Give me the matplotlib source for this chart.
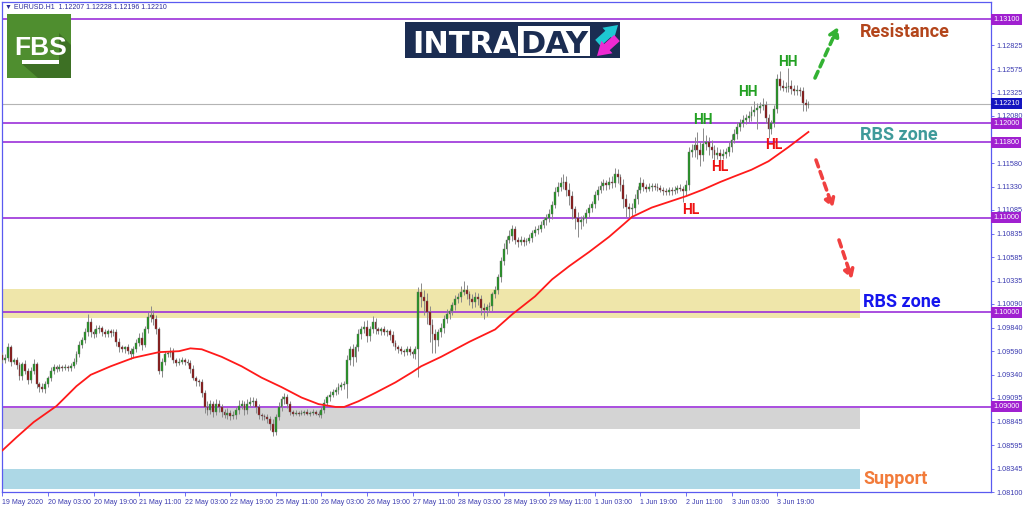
import numpy as np
import matplotlib
matplotlib.use('Agg')
import matplotlib.pyplot as plt
from matplotlib.patches import Rectangle, Polygon
import matplotlib.transforms as mtransforms

# EURUSD H1 closes, bar 0 = 19 May 2020 11:00
first_open = 1.0955
closes = [
    1.0950, 1.0952, 1.0963, 1.0948, 1.0950, 1.0944, 1.0933, 1.0945, 1.0938, 1.0929,
    1.0938, 1.0945, 1.0924, 1.0921, 1.0919, 1.0924, 1.0931, 1.0938, 1.0942, 1.0940,
    1.0942, 1.0941, 1.0942, 1.0941, 1.0943, 1.0948, 1.0956, 1.0966, 1.0971, 1.0979,
    1.0990, 1.0979, 1.0977, 1.0982, 1.0984, 1.0979, 1.0977, 1.0980, 1.0978, 1.0979,
    1.0969, 1.0963, 1.0961, 1.0963, 1.0959, 1.0956, 1.0961, 1.0968, 1.0973, 1.0966,
    1.0982, 1.0995, 1.0997, 1.0993, 1.0982, 1.0938, 1.0948, 1.0956, 1.0957, 1.0959,
    1.0950, 1.0947, 1.0948, 1.0950, 1.0948, 1.0947, 1.0940, 1.0931, 1.0927, 1.0926,
    1.0915, 1.0900, 1.0897, 1.0903, 1.0895, 1.0903, 1.0900, 1.0895, 1.0892, 1.0894,
    1.0890, 1.0892, 1.0897, 1.0901, 1.0903, 1.0897, 1.0903, 1.0905, 1.0906, 1.0900,
    1.0892, 1.0890, 1.0889, 1.0887, 1.0882, 1.0874, 1.0889, 1.0900, 1.0908, 1.0911,
    1.0903, 1.0895, 1.0893, 1.0894, 1.0893, 1.0894, 1.0895, 1.0893, 1.0894, 1.0895,
    1.0893, 1.0892, 1.0897, 1.0904, 1.0910, 1.0913, 1.0916, 1.0918, 1.0921, 1.0923,
    1.0924, 1.0950, 1.0961, 1.0953, 1.0963, 1.0977, 1.0982, 1.0985, 1.0975, 1.0982,
    1.0990, 1.0982, 1.0980, 1.0982, 1.0979, 1.0980, 1.0976, 1.0968, 1.0963, 1.0961,
    1.0959, 1.0958, 1.0961, 1.0958, 1.0956, 1.0961, 1.1022, 1.1016, 1.1012, 1.1000,
    1.0987, 1.0977, 1.0971, 1.0979, 1.0984, 1.0993, 1.0998, 1.1001, 1.1008, 1.1014,
    1.1016, 1.1022, 1.1024, 1.1019, 1.1014, 1.1011, 1.1016, 1.1014, 1.1005, 1.1003,
    1.1006, 1.1007, 1.1019, 1.1024, 1.1037, 1.1054, 1.1067, 1.1077, 1.1081, 1.1088,
    1.1077, 1.1075, 1.1077, 1.1075, 1.1076, 1.1079, 1.1084, 1.1087, 1.1088, 1.1093,
    1.1098, 1.1100, 1.1104, 1.1114, 1.1127, 1.1133, 1.1137, 1.1138, 1.1130, 1.1123,
    1.1109, 1.1100, 1.1096, 1.1098, 1.1100, 1.1105, 1.1111, 1.1115, 1.1124, 1.1130,
    1.1134, 1.1137, 1.1135, 1.1138, 1.1137, 1.1147, 1.1143, 1.1135, 1.1120, 1.1112,
    1.1109, 1.1111, 1.1120, 1.1130, 1.1137, 1.1133, 1.1131, 1.1133, 1.1134, 1.1133,
    1.1132, 1.1130, 1.1128, 1.1127, 1.1130, 1.1128, 1.1130, 1.1132, 1.1131, 1.1128,
    1.1135, 1.1170, 1.1172, 1.1177, 1.1172, 1.1167, 1.1178, 1.1180, 1.1175, 1.1172,
    1.1167, 1.1169, 1.1166, 1.1168, 1.1170, 1.1175, 1.1183, 1.1189, 1.1196, 1.1200,
    1.1204, 1.1206, 1.1208, 1.1212, 1.1214, 1.1216, 1.1218, 1.1219, 1.1206, 1.1194,
    1.1200, 1.1215, 1.1247, 1.1240, 1.1238, 1.1239, 1.1240, 1.1236, 1.1234, 1.1235,
    1.1234, 1.1222, 1.1219, 1.1221,
]
# wick lengths in pips above / below the body
wick_up = [
    3, 4, 5, 3, 2, 3, 4, 3, 5, 3, 4, 6, 3, 2, 4, 3, 2, 4, 3, 2,
    3, 2, 3, 2, 3, 4, 3, 4, 3, 5, 8, 4, 3, 5, 3, 2, 4, 3, 3, 4,
    3, 4, 3, 2, 4, 3, 3, 4, 5, 6, 4, 5, 10, 6, 4, 3, 4, 3, 2, 4,
    3, 2, 4, 3, 2, 3, 3, 4, 2, 3, 4, 3, 6, 4, 3, 5, 4, 3, 3, 5,
    3, 4, 3, 6, 4, 3, 5, 6, 4, 3, 3, 2, 3, 4, 3, 5, 4, 5, 4, 4,
    3, 3, 2, 3, 2, 3, 2, 3, 2, 3, 2, 3, 3, 4, 3, 4, 3, 3, 4, 3,
    3, 5, 4, 6, 4, 5, 4, 6, 7, 4, 6, 4, 3, 3, 4, 3, 3, 4, 3, 3,
    3, 2, 3, 3, 2, 4, 5, 9, 8, 9, 7, 6, 5, 4, 5, 4, 6, 4, 3, 4,
    5, 6, 9, 5, 4, 5, 6, 5, 4, 5, 3, 4, 3, 4, 4, 5, 6, 4, 6, 5,
    4, 3, 4, 3, 3, 4, 3, 4, 5, 4, 3, 4, 5, 4, 6, 5, 6, 8, 6, 7,
    5, 4, 6, 4, 3, 4, 4, 3, 5, 4, 5, 4, 3, 5, 6, 6, 5, 4, 6, 5,
    4, 5, 5, 4, 6, 4, 3, 4, 3, 3, 4, 3, 3, 4, 3, 3, 4, 3, 4, 3,
    5, 5, 6, 9, 14, 8, 17, 8, 6, 7, 5, 6, 4, 5, 4, 5, 6, 5, 6, 5,
    5, 4, 5, 6, 10, 6, 5, 8, 5, 4, 4, 5, 5, 8, 6, 5, 19, 6, 5, 6,
    4, 5, 4, 3,
]
wick_dn = [
    3, 4, 3, 5, 3, 4, 5, 4, 3, 5, 4, 3, 4, 5, 3, 4, 3, 4, 3, 3,
    2, 3, 2, 3, 3, 2, 3, 3, 4, 3, 4, 5, 4, 3, 4, 4, 3, 3, 4, 3,
    4, 5, 3, 4, 3, 5, 4, 3, 4, 6, 3, 4, 5, 6, 5, 3, 6, 4, 3, 4,
    3, 4, 3, 3, 4, 3, 4, 3, 5, 4, 5, 6, 5, 4, 6, 4, 5, 6, 4, 5,
    4, 3, 5, 4, 3, 5, 4, 3, 4, 6, 5, 4, 3, 4, 6, 5, 4, 3, 4, 5,
    4, 3, 3, 2, 3, 2, 3, 2, 3, 3, 2, 3, 4, 3, 3, 4, 3, 3, 4, 3,
    4, 15, 6, 10, 5, 4, 5, 4, 6, 5, 4, 5, 3, 4, 3, 4, 5, 4, 3, 4,
    3, 4, 3, 3, 4, 5, 29, 10, 15, 12, 18, 20, 14, 6, 5, 6, 4, 5, 4, 5,
    4, 5, 4, 5, 6, 6, 5, 6, 8, 10, 7, 6, 5, 4, 4, 5, 4, 5, 4, 5,
    5, 6, 4, 5, 4, 3, 4, 3, 4, 3, 4, 5, 4, 5, 4, 4, 5, 6, 7, 9,
    10, 12, 16, 8, 6, 5, 4, 5, 4, 5, 4, 4, 5, 4, 5, 4, 6, 7, 10, 11,
    8, 7, 6, 5, 4, 5, 4, 3, 4, 3, 4, 3, 4, 3, 3, 4, 3, 4, 3, 11,
    4, 5, 6, 8, 10, 12, 7, 6, 8, 9, 6, 5, 6, 4, 5, 4, 5, 4, 5, 4,
    4, 5, 4, 5, 4, 20, 5, 4, 6, 9, 5, 4, 4, 5, 4, 5, 6, 5, 4, 4,
    5, 9, 6, 3,
]

# moving average, read at some bars
ma_idx = [0, 5, 11, 19, 26, 31, 38, 46, 55, 62, 66, 70, 77, 84, 91, 98, 105, 111,
          117, 120, 125, 131, 138, 144, 147, 154, 164, 173, 179, 187, 193, 199, 206,
          213, 218, 221, 228, 240, 246, 252, 257, 263, 269, 276, 283]
ma_val = [1.0854, 1.0868, 1.0884, 1.0901, 1.0922, 1.0934, 1.0943, 1.0952, 1.0958,
          1.0959, 1.0962, 1.0961, 1.0953, 1.0943, 1.0931, 1.0921, 1.0910, 1.0903,
          1.0900, 1.0900, 1.0906, 1.0915, 1.0926, 1.0937, 1.0943, 1.0953, 1.0969,
          1.0982, 1.0998, 1.1017, 1.1035, 1.1049, 1.1064, 1.1080, 1.1093, 1.1101,
          1.1111, 1.1123, 1.1130, 1.1138, 1.1144, 1.1151, 1.1160, 1.1175, 1.1191]

levels = [1.13100, 1.12000, 1.11800, 1.11000, 1.10000, 1.09000]
level_labels = ['1.13100', '1.12000', '1.11800', '1.11000', '1.10000', '1.09000']
last_price = 1.12210

yellow_zone = [1.09937, 1.10243]
grey_zone = [1.08762, 1.08985]
blue_zone = [1.08127, 1.08339]
zone_end = 301.1

xtick_idx = [0, 16, 32, 48, 64, 80, 96, 112, 128, 144, 160, 176, 192, 208, 224, 240, 256, 272]
xtick_labels = ['19 May 2020', '20 May 03:00', '20 May 19:00', '21 May 11:00', '22 May 03:00',
                '22 May 19:00', '25 May 11:00', '26 May 03:00', '26 May 19:00', '27 May 11:00',
                '28 May 03:00', '28 May 19:00', '29 May 11:00', '1 Jun 03:00', '1 Jun 19:00',
                '2 Jun 11:00', '3 Jun 03:00', '3 Jun 19:00']
# 1.11830 sits under the 1.11800 box, so its text is left out
ytick_vals = [1.13075, 1.12825, 1.12575, 1.12325, 1.12080, 1.11830, 1.11580, 1.11330,
              1.11085, 1.10835, 1.10585, 1.10335, 1.10090, 1.09840, 1.09590, 1.09340,
              1.09095, 1.08845, 1.08595, 1.08345, 1.08100]
ytick_labels = ['1.13075', '1.12825', '1.12575', '1.12325', '1.12080', '', '1.11580',
                '1.11330', '1.11085', '1.10835', '1.10585', '1.10335', '1.10090', '1.09840',
                '1.09590', '1.09340', '1.09095', '1.08845', '1.08595', '1.08345', '1.08100']

small_font = ['Liberation Sans', 'DejaVu Sans']
frame_col = '#5a5af0'
tick_col = '#3a3ab0'
purple = '#9b30d9'

fig = plt.figure(figsize=(10.24, 5.11), dpi=100)
ax = fig.add_axes([2 / 1024, 19 / 511, 989 / 1024, 490 / 511])

c = np.array(closes)
x = np.arange(len(c))
o = np.r_[first_open, c[:-1]]
hi = np.maximum(o, c) + np.array(wick_up) * 0.0001
lo = np.minimum(o, c) - np.array(wick_dn) * 0.0001

# zones
for z, col in [(yellow_zone, '#efe6aa'), (grey_zone, '#d4d4d4'), (blue_zone, '#add8e6')]:
    ax.add_patch(Rectangle((-1, z[0]), zone_end + 1, z[1] - z[0], fc=col, ec='none', zorder=1))

for lv in levels:
    ax.axhline(lv, color=purple, lw=1.2, zorder=2)
ax.axhline(last_price, color='#b4b4b4', lw=0.8, zorder=2)

# candles
ax.vlines(x, lo, hi, color='#8a8a8a', lw=0.7, zorder=3)
up = c >= o
body = np.maximum(np.abs(c - o), 0.00004)
ax.bar(x[up], body[up], bottom=o[up], width=0.65, color='#1e961e',
       edgecolor='#6a6a6a', lw=0.3, zorder=4)
ax.bar(x[~up], body[~up], bottom=c[~up], width=0.65, color='#8b0f0f',
       edgecolor='#6a6a6a', lw=0.3, zorder=4)

ax.plot(ma_idx, ma_val, color='#ff1a1a', lw=1.3, zorder=5)

ax.set_xlim(-0.14, 347.1)
ax.set_ylim(1.0810, 1.13285)

for s in ax.spines.values():
    s.set_color(frame_col)
    s.set_linewidth(0.9)

ax.yaxis.tick_right()
ax.set_yticks(ytick_vals, ytick_labels)
ax.tick_params(axis='y', length=2.5, width=0.6, color=frame_col, labelcolor=tick_col,
               labelsize=5.2, pad=1.5)
ax.set_xticks(xtick_idx, xtick_labels)
ax.tick_params(axis='x', length=3, width=0.6, color=frame_col, labelcolor=tick_col,
               labelsize=5.0, pad=2)
for lab in ax.get_xticklabels() + ax.get_yticklabels():
    lab.set_family(small_font)
for lab in ax.get_xticklabels():
    lab.set_horizontalalignment('left')

trans = mtransforms.blended_transform_factory(ax.transAxes, ax.transData)
for lv, lab in zip(levels, level_labels):
    ax.text(1.0025, lv, lab, transform=trans, fontsize=5.2, family=small_font, color='white',
            ha='left', va='center', clip_on=False, zorder=10,
            bbox=dict(boxstyle='square,pad=0.28', fc='#a020d0', ec='none'))
ax.text(1.0025, last_price, '%.5f' % last_price, transform=trans, fontsize=5.2, family=small_font,
        color='white', ha='left', va='center', clip_on=False, zorder=10,
        bbox=dict(boxstyle='square,pad=0.28', fc='#1414c0', ec='none'))

# overlay in pixel coordinates for logos and drawings
ov = fig.add_axes([0, 0, 1, 1])
ov.set_xlim(0, 1024)
ov.set_ylim(511, 0)
ov.axis('off')
ov.patch.set_alpha(0)

ov.text(5, 7, '\u25bc EURUSD.H1  1.12207 1.12228 1.12196 1.12210', fontsize=5.0,
        family=small_font, color='#2a2a9a', ha='left', va='center')

# FBS logo
ov.add_patch(Rectangle((7, 14), 64, 64, fc='#4f8e2f', ec='none'))
ov.add_patch(Polygon([(59, 33), (71, 45), (71, 78), (38, 78), (22, 64), (59, 64)],
                     closed=True, fc='#3d7024', ec='none'))
ov.text(40.5, 55, 'FBS', fontsize=19, fontweight='bold', color='white',
        family=['Liberation Sans', 'DejaVu Sans'], ha='center', va='baseline')
ov.add_patch(Rectangle((22, 60), 37, 4, fc='white', ec='none'))

# INTRADAY logo
ov.add_patch(Rectangle((405, 22), 215, 36, fc='#1b2d52', ec='none'))
ov.text(412, 53, 'INTRA', fontsize=22, fontweight='bold', color='white',
        family='DejaVu Sans', ha='left', va='baseline')
ov.add_patch(Rectangle((518, 26), 72, 30, fc='white', ec='none'))
ov.text(554, 53, 'DAY', fontsize=22, fontweight='bold', color='#1b2d52',
        family='DejaVu Sans', ha='center', va='baseline')
ov.annotate('', xy=(618, 25), xytext=(598, 43),
            arrowprops=dict(arrowstyle='simple,head_width=1.0,head_length=0.8,tail_width=0.5',
                            fc='#1ec8d2', ec='none', mutation_scale=12, shrinkA=0, shrinkB=0))
ov.annotate('', xy=(597, 56), xytext=(617, 38),
            arrowprops=dict(arrowstyle='simple,head_width=1.0,head_length=0.8,tail_width=0.5',
                            fc='#ee2ad2', ec='none', mutation_scale=12, shrinkA=0, shrinkB=0))

# zone labels
bold = dict(fontweight='bold', family=['Roboto', 'DejaVu Sans'], va='center', ha='left')
ov.text(860, 32, 'Resistance', fontsize=13, color='#b3451b', **bold)
ov.text(860, 135, 'RBS zone', fontsize=13, color='#3f9a9a', **bold)
ov.text(863, 302, 'RBS zone', fontsize=13, color='#1515ee', **bold)
ov.text(863, 479, 'Support', fontsize=13, color='#f27b3a', **bold)

small_bold = dict(fontweight='bold', family=['Roboto', 'DejaVu Sans'], va='center',
                  ha='center', fontsize=10)
for px, py in [(703, 120), (748, 92), (788, 62)]:
    ov.text(px, py, 'HH', color='#22a022', **small_bold)
for px, py in [(691, 210), (720, 167), (774, 145)]:
    ov.text(px, py, 'HL', color='#ee1111', **small_bold)

# dashed arrows
for start, tip, col in [((815, 78), (838, 27), '#33b233'),
                        ((816, 160), (833, 208), '#f04040'),
                        ((839, 240), (852, 279), '#f04040')]:
    ov.annotate('', xy=tip, xytext=start,
                arrowprops=dict(arrowstyle='-|>,head_length=0.5,head_width=0.3',
                                lw=2.6, linestyle=(0, (2, 1.4)), color=col,
                                shrinkA=0, shrinkB=0))

fig.savefig('out.png', dpi=100)
